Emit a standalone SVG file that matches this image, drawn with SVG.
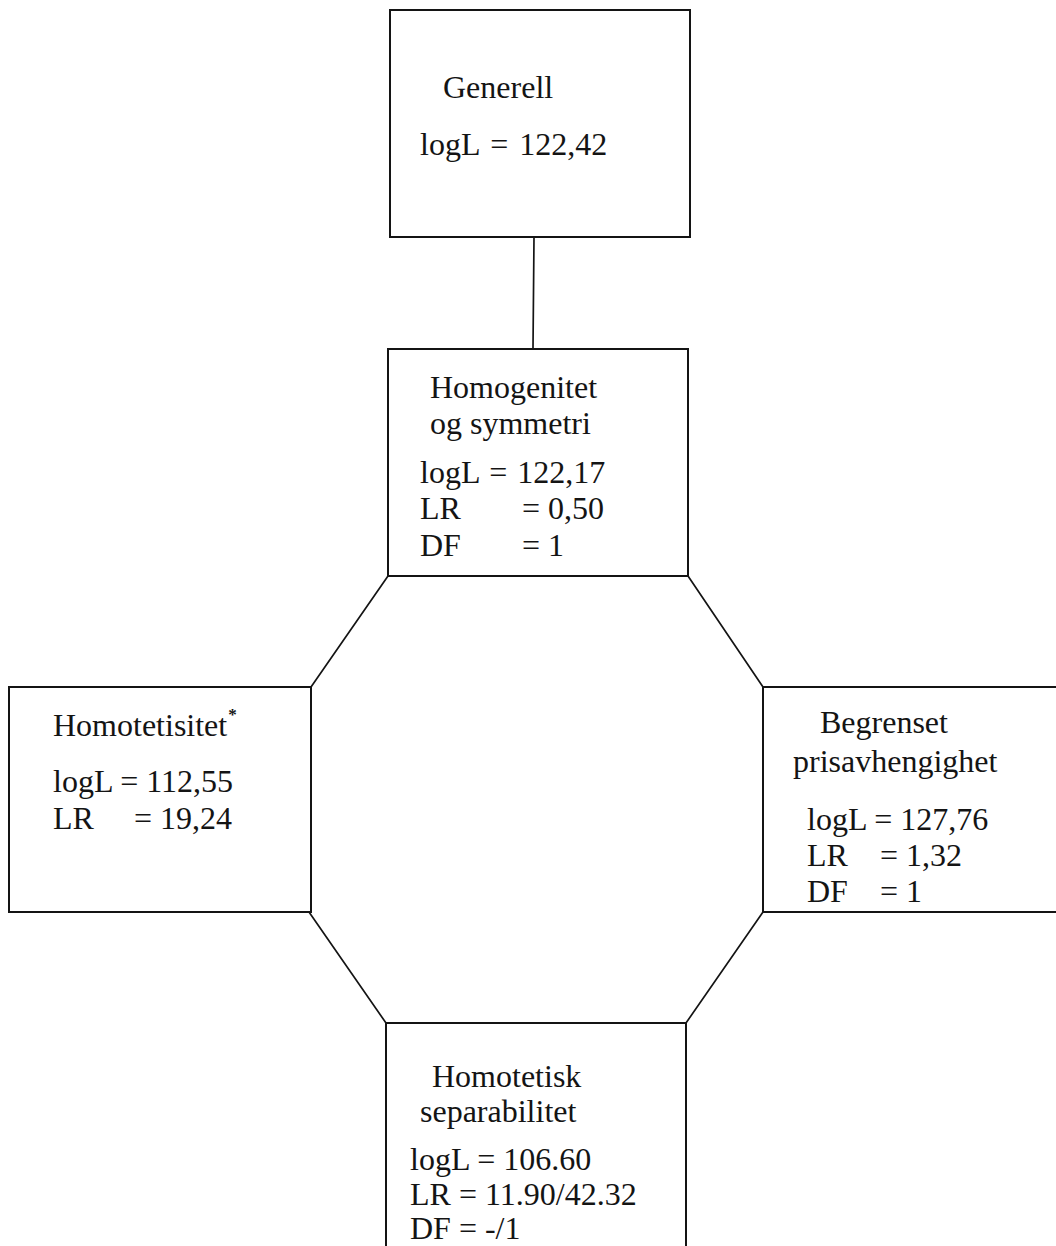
<svg xmlns="http://www.w3.org/2000/svg" width="1056" height="1246" viewBox="0 0 1056 1246">
  <style>
    .box { fill: none; stroke: #141414; stroke-width: 2; }
    .edge { fill: none; stroke: #141414; stroke-width: 1.7; stroke-linecap: round; }
    text { font-family: "Liberation Serif", "Times New Roman", serif; font-size: 32px; fill: #141414; }
    .sup { font-size: 17px; font-weight: bold; }
  </style>
  <rect x="0" y="0" width="1056" height="1246" fill="#ffffff"/>

  <!-- connectors: the link from the general model and the octagon of tested restrictions -->
  <g id="connectors">
    <line class="edge" x1="534" y1="237" x2="533" y2="349"/>
    <line class="edge" x1="388" y1="576" x2="311" y2="687"/>
    <line class="edge" x1="688" y1="576" x2="763" y2="687"/>
    <line class="edge" x1="309" y1="912" x2="386" y2="1023"/>
    <line class="edge" x1="763" y1="912" x2="686" y2="1023"/>
  </g>

  <g id="node-generell">
    <rect class="box" x="390" y="10" width="300" height="227"/>
    <text x="443" y="98">Generell</text>
    <text x="420" y="155" word-spacing="3">logL = 122,42</text>
  </g>

  <g id="node-homogenitet">
    <rect class="box" x="388" y="349" width="300" height="227"/>
    <text x="430" y="398">Homogenitet</text>
    <text x="430" y="434">og symmetri</text>
    <text x="420" y="483" word-spacing="2">logL = 122,17</text>
    <text x="420" y="519">LR</text>
    <text x="522" y="519">= 0,50</text>
    <text x="420" y="556">DF</text>
    <text x="522" y="556">= 1</text>
  </g>

  <g id="node-homotetisitet">
    <rect class="box" x="9" y="687" width="302" height="225"/>
    <text x="53" y="736">Homotetisitet<tspan class="sup" dx="1" dy="-16">*</tspan></text>
    <text x="53" y="792">logL = 112,55</text>
    <text x="53" y="829">LR</text>
    <text x="134" y="829">= 19,24</text>
  </g>

  <g id="node-prisavhengighet">
    <rect class="box" x="763" y="687" width="310" height="225"/>
    <text x="820" y="733">Begrenset</text>
    <text x="793" y="772">prisavhengighet</text>
    <text x="807" y="830">logL = 127,76</text>
    <text x="807" y="866">LR</text>
    <text x="880" y="866">= 1,32</text>
    <text x="807" y="902">DF</text>
    <text x="880" y="902">= 1</text>
  </g>

  <g id="node-separabilitet">
    <rect class="box" x="386" y="1023" width="300" height="240"/>
    <text x="432" y="1087">Homotetisk</text>
    <text x="420" y="1122">separabilitet</text>
    <text x="410" y="1170">logL = 106.60</text>
    <text x="410" y="1205">LR = 11.90/42.32</text>
    <text x="410" y="1239">DF = -/1</text>
  </g>
</svg>
